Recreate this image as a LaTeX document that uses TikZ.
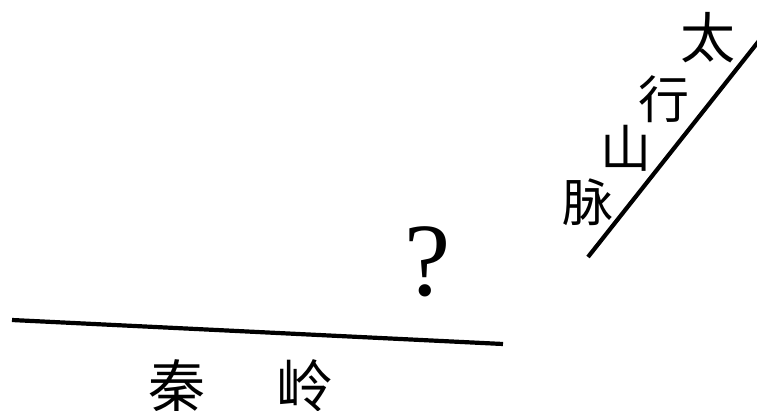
\documentclass[tikz,border=0pt]{standalone}
\usepackage{fontspec}
\newfontfamily\cjk{Noto Sans CJK SC}
\setmainfont{Liberation Serif}
\begin{document}
\begin{tikzpicture}[x=1pt,y=-1pt,
  ridge/.style={line width=4.2pt},
  hanzi/.style={font=\cjk\fontsize{51}{51}\selectfont, inner sep=0pt},
  bighanzi/.style={font=\cjk\fontsize{55}{55}\selectfont, inner sep=0pt},
  qmark/.style={font=\fontsize{104}{104}\selectfont, inner sep=0pt}]
\useasboundingbox[fill=white] (0,0) rectangle (757,410);
\begin{scope}
\clip (0,0) rectangle (757,410);
\coordinate (q1) at (12,320);
\coordinate (q2) at (503,344);
\coordinate (t1) at (588,257);
\coordinate (t2) at (762,37);
\draw[ridge] (q1) -- (q2);
\draw[ridge] (t1) -- (t2);
\node[bighanzi] (tai) at (708,38) {太};
\node[hanzi] (hang) at (664,99) {行};
\node[hanzi] (shan) at (626,148) {山};
\node[hanzi] (mai) at (588,202) {脉};
\node[qmark] (q) at (428,262) {?};
\node[bighanzi, font=\cjk\fontsize{57}{57}\selectfont] (qin) at (177,386) {秦};
\node[bighanzi, font=\cjk\fontsize{57}{57}\selectfont] (ling) at (305,386) {岭};
\end{scope}
\end{tikzpicture}
\end{document}
